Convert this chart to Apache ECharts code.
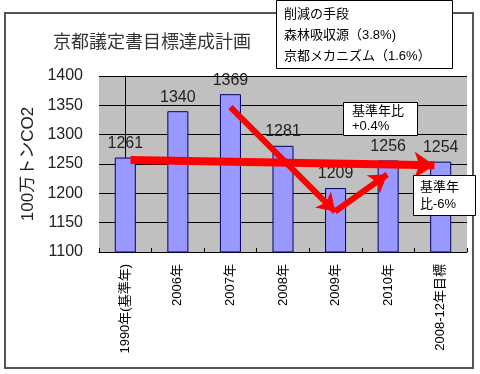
<!DOCTYPE html>
<html>
<head>
<meta charset="utf-8">
<script src="https://cdn.jsdelivr.net/npm/echarts@6/dist/echarts.min.js"></script>
<style>html,body{margin:0;padding:0;background:#fff;}#c{width:480px;height:374px;}</style>
</head>
<body>
<div id="c"></div>
<script>
const categories = ['1990年(基準年)', '2006年', '2007年', '2008年', '2009年', '2010年', '2008-12年目標'];
const emissions = [1261, 1340, 1369, 1281, 1209, 1256, 1254];
const yMin = 1100, yMax = 1400, yStep = 50;
const titleText = '京都議定書目標達成計画';
const yName = '100万トンCO2';
const meansLines = ['削減の手段', '森林吸収源（3.8%)', '京都メカニズム（1.6%）'];
const noteUp = ['基準年比', '+0.4%'];
const noteTarget = ['基準年', '比-6%'];
// arrows in (category index, value) coordinates
const arrowTrend = [[0.1, 1257], [5.88, 1248]];
const arrowDown = [[2.0, 1347], [3.99, 1169]];
const arrowUp = [[3.99, 1169], [4.98, 1232]];

const FONT = "'Liberation Sans', 'Noto Sans CJK JP', sans-serif";
const chart = echarts.init(document.getElementById('c'));
chart.setOption({
  backgroundColor: '#fff',
  animation: false,
  title: {
    text: titleText, left: 48, top: 29,
    textStyle: { fontFamily: FONT, fontSize: 18, fontWeight: 'normal', color: '#333' }
  },
  grid: { left: 99, top: 76, right: 13, bottom: 122, show: true, backgroundColor: '#c0c0c0', borderWidth: 0 },
  xAxis: [{
    type: 'category', data: categories,
    axisLine: { lineStyle: { color: '#000', width: 1 } },
    axisTick: { show: true, inside: true, length: 4, lineStyle: { color: '#000' } },
    axisLabel: { rotate: 90, fontFamily: FONT, fontSize: 13, color: '#000', margin: 12, interval: 0 },
    splitLine: { show: false }
  }, {
    type: 'value', min: -0.5, max: 6.5, show: false
  }],
  yAxis: {
    type: 'value', min: yMin, max: yMax, interval: yStep,
    name: yName, nameLocation: 'middle', nameGap: 62, nameRotate: 90,
    nameTextStyle: { fontFamily: FONT, fontSize: 17, color: '#222' },
    axisLine: { show: true, lineStyle: { color: '#000' } },
    axisTick: { show: true, length: 3, lineStyle: { color: '#000' } },
    axisLabel: { fontFamily: FONT, fontSize: 16, color: '#222', margin: 16, formatter: v => String(v) },
    splitLine: { show: true, lineStyle: { color: '#000', width: 1 } }
  },
  series: [{
    type: 'bar', data: emissions, barWidth: '40%',
    itemStyle: { color: '#9999ff', borderColor: '#000066', borderWidth: 1 },
    label: { show: true, position: 'top', distance: 6, fontFamily: FONT, fontSize: 16, color: '#222' },
    z: 2
  }, {
    type: 'lines', coordinateSystem: 'cartesian2d', xAxisIndex: 1, yAxisIndex: 0,
    symbol: ['none', 'arrow'], symbolSize: 20,
    lineStyle: { color: '#ff0000', width: 8, opacity: 1, curveness: 0 },
    data: [{ coords: arrowTrend }],
    z: 5
  }, {
    type: 'lines', coordinateSystem: 'cartesian2d', xAxisIndex: 1, yAxisIndex: 0,
    symbol: ['none', 'arrow'], symbolSize: 17,
    lineStyle: { color: '#ff0000', width: 6, opacity: 1, curveness: 0 },
    data: [{ coords: arrowDown }, { coords: arrowUp }],
    z: 5
  }],
  graphic: [
    { type: 'rect', z: -10, shape: { x: 5, y: 13, width: 468, height: 355 },
      style: { fill: 'none', stroke: '#555', lineWidth: 2 } },
    { type: 'rect', z: 100, shape: { x: 276.5, y: 0.5, width: 176, height: 68 },
      style: { fill: '#fff', stroke: '#000', lineWidth: 1 } },
    { type: 'text', z: 101, left: 284, top: 4,
      style: { text: meansLines.join('\n'), font: '13px ' + FONT, fill: '#000', lineHeight: 21 } },
    { type: 'rect', z: 100, shape: { x: 343.5, y: 102.5, width: 74, height: 33 },
      style: { fill: '#fff', stroke: '#000', lineWidth: 1 } },
    { type: 'text', z: 101, left: 352, top: 104,
      style: { text: noteUp.join('\n'), font: '13px ' + FONT, fill: '#000', lineHeight: 15 } },
    { type: 'rect', z: 100, shape: { x: 413.5, y: 175.5, width: 62, height: 40 },
      style: { fill: '#fff', stroke: '#000', lineWidth: 1 } },
    { type: 'text', z: 101, left: 420, top: 179,
      style: { text: noteTarget.join('\n'), font: '13px ' + FONT, fill: '#000', lineHeight: 17 } }
  ]
});
</script>
</body>
</html>
